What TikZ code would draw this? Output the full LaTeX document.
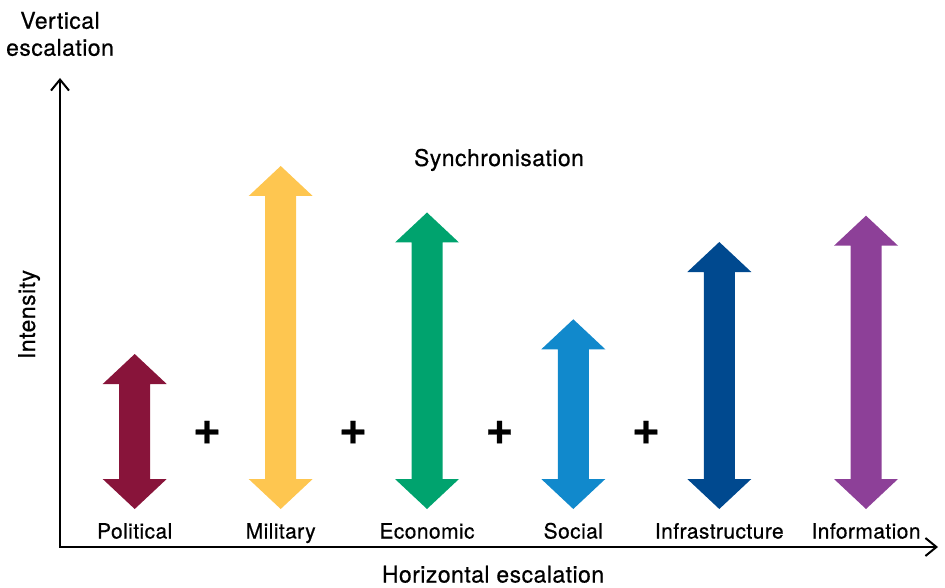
\documentclass[tikz,border=0pt]{standalone}
\usepackage{fontspec}
\setmainfont{TeX Gyre Heros}[FakeBold=0.5,LetterSpace=2]
\usetikzlibrary{arrows.meta}
\definecolor{political}{HTML}{88143A}
\definecolor{military}{HTML}{FEC650}
\definecolor{economic}{HTML}{00A36E}
\definecolor{social}{HTML}{1189CC}
\definecolor{infrastructure}{HTML}{00498F}
\definecolor{information}{HTML}{8D4098}
\tikzset{
  axis/.style={line width=2pt, {Straight Barb[length=11pt,width=18pt,line width=2pt]}-{Straight Barb[length=11pt,width=18pt,line width=2pt]}},
  lbl/.style={inner sep=0pt, anchor=base, font=\fontsize{21}{25}\selectfont},
  title/.style={inner sep=0pt, font=\fontsize{23}{27}\selectfont},
  plus/.style={inner sep=0pt, font=\bfseries\fontsize{48}{50}\selectfont}
}
\begin{document}
\begin{tikzpicture}[x=1pt,y=-1pt]
	\useasboundingbox (0,0) rectangle (945,588);
	% axes
	\coordinate (origin) at (60,547);
	\coordinate (ytip) at (60,78);
	\coordinate (xtip) at (938,547);
	\draw[axis] (ytip) -- (origin) -- (xtip);
	\node[title, align=center] (vert) at (60,34) {Vertical\\escalation};
	\node[title, anchor=base] (horiz) at (493,582.5) {Horizontal escalation};
	\node[title, anchor=base, rotate=90] (intens) at (35,314.5) {Intensity};
	\node[title, anchor=base] (sync) at (499,166) {Synchronisation};
	% double arrows: centre / top tip / colour / name / label
	\foreach \x/\top/\col/\name/\txt in {134.7/354/political/pol/Political,
		280.7/166/military/mil/Military, 427/212.5/economic/eco/Economic,
		573.3/319.3/social/soc/Social, 719.3/242/infrastructure/inf/Infrastructure,
		866/215.7/information/info/Information}
	{
		\fill[\col] (\x-15.5,479) -- (\x-32,479) -- (\x,509) -- (\x+32,479) -- (\x+15.5,479)
			-- (\x+15.5,\top+30) -- (\x+32,\top+30) -- (\x,\top) -- (\x-32,\top+30)
			-- (\x-15.5,\top+30) -- cycle;
		\node[lbl] (\name) at (\x,538.5) {\txt};
	}
	% plus signs
	\foreach \x [count=\i] in {207,353,499.5,646}
	\node[plus] (plus\i) at (\x,432.5) {+};
\end{tikzpicture}
\end{document}
